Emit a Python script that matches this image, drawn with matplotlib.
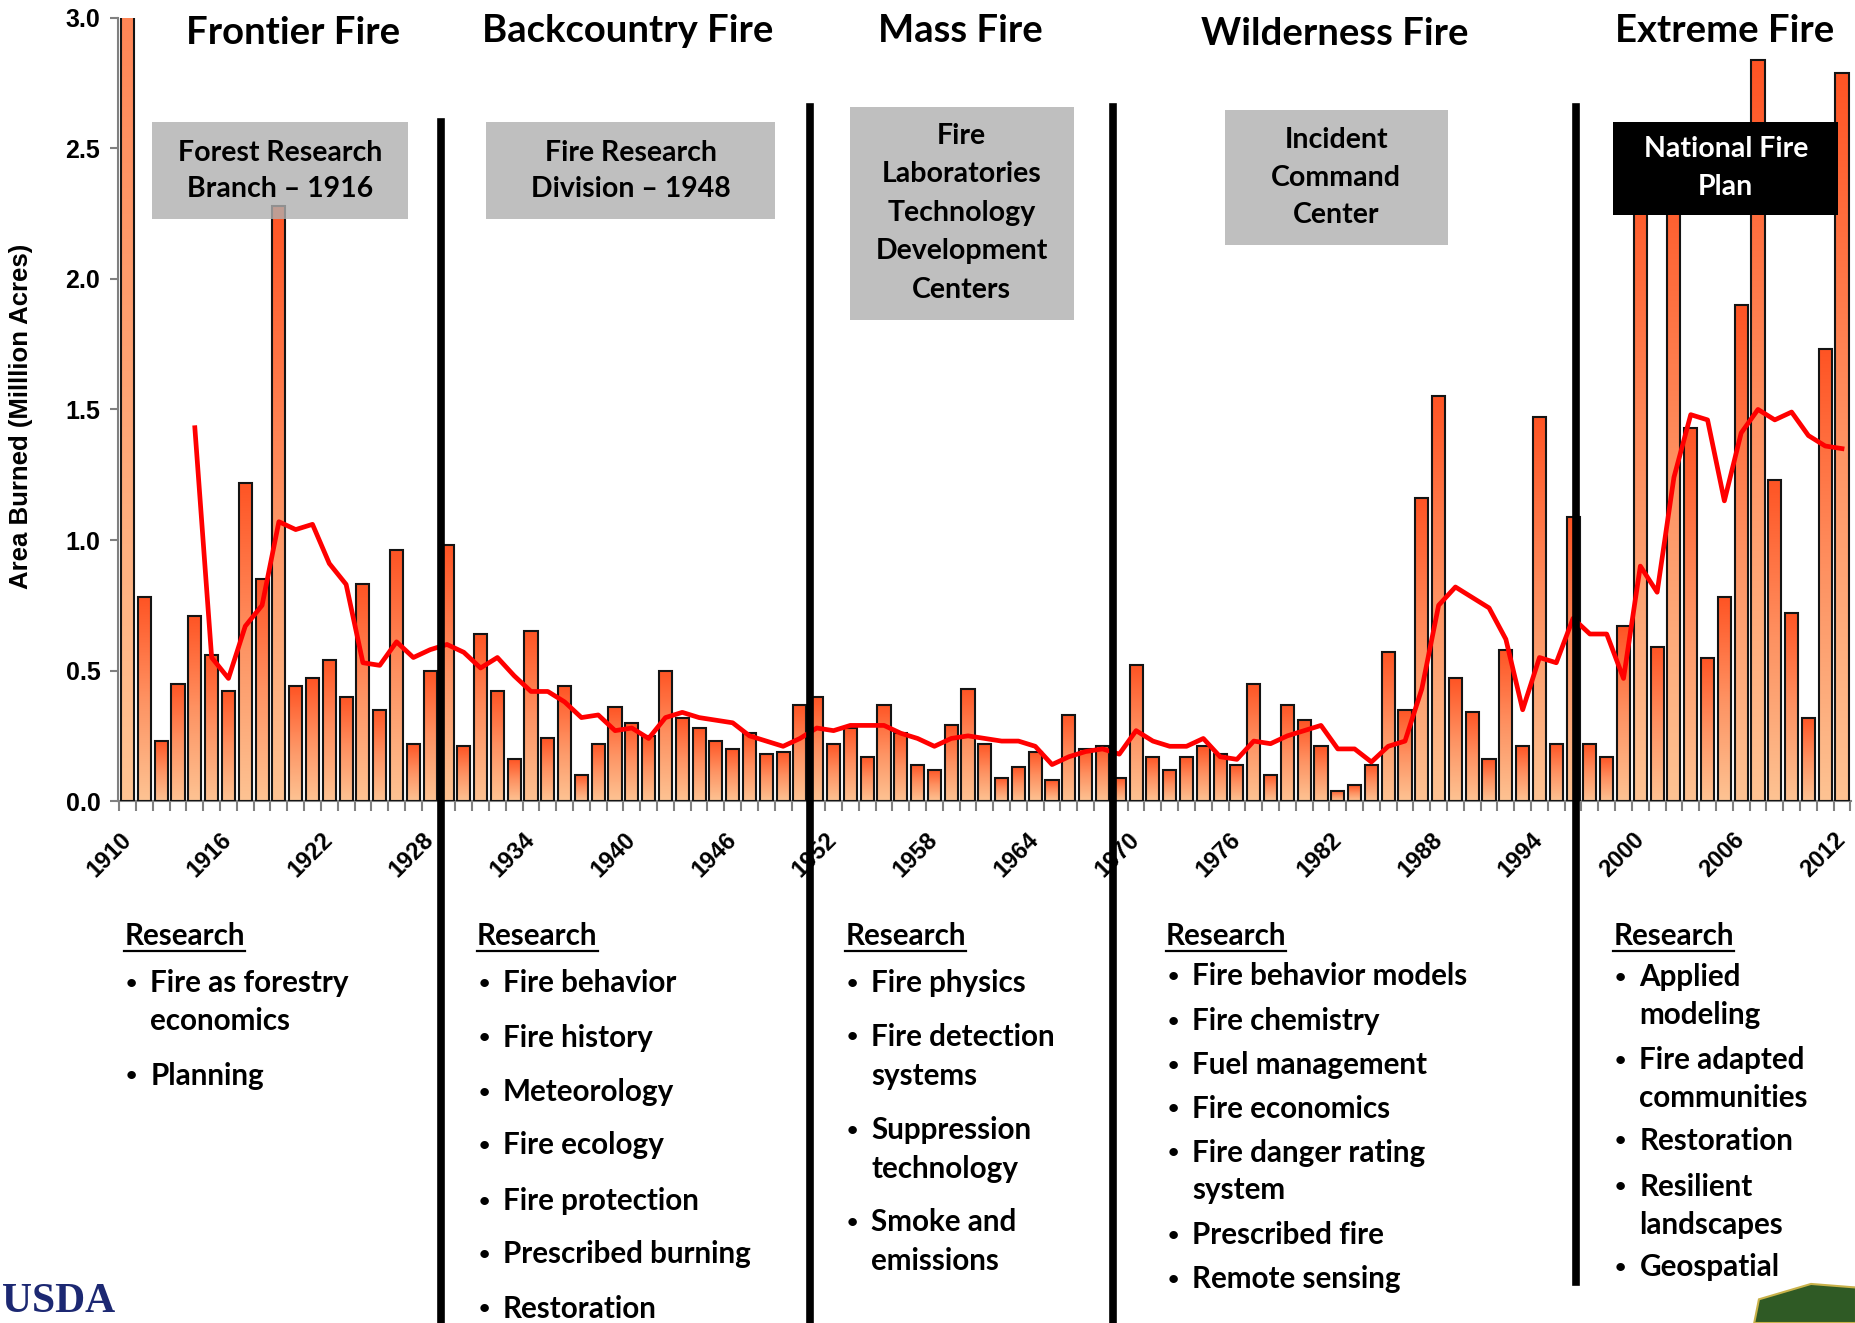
import matplotlib
matplotlib.use("Agg")
import matplotlib.pyplot as plt
import numpy as np
from matplotlib.colors import LinearSegmentedColormap
from matplotlib.patches import Rectangle, Polygon
from matplotlib.lines import Line2D
from matplotlib.transforms import blended_transform_factory

# area burned per year (million acres), 1910 - 2012
years = list(range(1910, 2013))
acres = [5.00, 0.78, 0.23, 0.45, 0.71, 0.56, 0.42, 1.22, 0.85, 2.28,
         0.44, 0.47, 0.54, 0.40, 0.83, 0.35, 0.96, 0.22, 0.50, 0.98,
         0.21, 0.64, 0.42, 0.16, 0.65, 0.24, 0.44, 0.10, 0.22, 0.36,
         0.30, 0.25, 0.50, 0.32, 0.28, 0.23, 0.20, 0.26, 0.18, 0.19,
         0.37, 0.40, 0.22, 0.28, 0.17, 0.37, 0.26, 0.14, 0.12, 0.29,
         0.43, 0.22, 0.09, 0.13, 0.19, 0.08, 0.33, 0.20, 0.21, 0.09,
         0.52, 0.17, 0.12, 0.17, 0.21, 0.18, 0.14, 0.45, 0.10, 0.37,
         0.31, 0.21, 0.04, 0.06, 0.14, 0.57, 0.35, 1.16, 1.55, 0.47,
         0.34, 0.16, 0.58, 0.21, 1.47, 0.22, 1.09, 0.22, 0.17, 0.67,
         2.45, 0.59, 2.50, 1.43, 0.55, 0.78, 1.90, 2.84, 1.23, 0.72,
         0.32, 1.73, 2.79]

# moving average line, 1914 - 2012
avg_years = list(range(1914, 2013))
avg_acres = [1.43, 0.55, 0.47, 0.67, 0.75, 1.07,
             1.04, 1.06, 0.91, 0.83, 0.53, 0.52, 0.61, 0.55, 0.58, 0.60,
             0.57, 0.51, 0.55, 0.48, 0.42, 0.42, 0.38, 0.32, 0.33, 0.27,
             0.28, 0.24, 0.32, 0.34, 0.32, 0.31, 0.30, 0.25, 0.23, 0.21,
             0.24, 0.28, 0.27, 0.29, 0.29, 0.29, 0.26, 0.24, 0.21, 0.24,
             0.25, 0.24, 0.23, 0.23, 0.21, 0.14, 0.17, 0.19, 0.20, 0.18,
             0.27, 0.23, 0.21, 0.21, 0.24, 0.17, 0.16, 0.23, 0.22, 0.25,
             0.27, 0.29, 0.20, 0.20, 0.15, 0.21, 0.23, 0.43, 0.75, 0.82,
             0.78, 0.74, 0.62, 0.35, 0.55, 0.53, 0.70, 0.64, 0.64, 0.47,
             0.90, 0.80, 1.24, 1.48, 1.46, 1.15, 1.41, 1.50, 1.46, 1.49,
             1.40, 1.36, 1.35]

tick_years = list(range(1910, 2013, 6))
era_breaks = [1928.62, 1950.58, 1968.6, 1996.2]

era_titles = ["Frontier Fire", "Backcountry Fire", "Mass Fire", "Wilderness Fire", "Extreme Fire"]
box_texts = [["Forest Research", "Branch \u2013 1916"],
             ["Fire Research", "Division \u2013 1948"],
             ["Fire", "Laboratories", "Technology", "Development", "Centers"],
             ["Incident", "Command", "Center"],
             ["National Fire", "Plan"]]

research_items = [
    ["Fire as forestry", "economics", "Planning"],
    ["Fire behavior", "Fire history", "Meteorology", "Fire ecology", "Fire protection",
     "Prescribed burning", "Restoration"],
    ["Fire physics", "Fire detection", "systems", "Suppression", "technology", "Smoke and", "emissions"],
    ["Fire behavior models", "Fire chemistry", "Fuel management", "Fire economics",
     "Fire danger rating", "system", "Prescribed fire", "Remote sensing"],
    ["Applied", "modeling", "Fire adapted", "communities", "Restoration", "Resilient",
     "landscapes", "Geospatial"],
]
# which lines start with a bullet
research_bullets = [
    [True, False, True],
    [True, True, True, True, True, True, True],
    [True, True, False, True, False, True, False],
    [True, True, True, True, True, False, True, True],
    [True, False, True, False, True, True, False, True],
]

# layout measured on a 1568 x 1118 grid
W, H = 1568.0, 1118.0


def fx(x):
    return x / W


def fy(y):
    return 1 - y / H


TXT = "Lato"
fig = plt.figure(figsize=(18.56, 13.23), dpi=100)
ax = fig.add_axes([fx(100), fy(677), fx(1464), fy(15) - fy(677)])

# gradient bars
cmap = LinearSegmentedColormap.from_list("burn", ["#FDC393", "#FE9262", "#FF5424"])
grad = np.linspace(0, 1, 256).reshape(-1, 1)
bar_w = 0.78
for yr, a in zip(years, acres):
    ax.imshow(grad, extent=(yr - bar_w / 2, yr + bar_w / 2, 0, a), origin="lower",
              aspect="auto", cmap=cmap, zorder=2, interpolation="bilinear")
ax.bar(years, acres, width=bar_w, fill=False, edgecolor="#141414", linewidth=1.5, zorder=3)
ax.plot(avg_years, avg_acres, color="#FF0000", linewidth=3.4, zorder=4)

ax.set_xlim(1909.45, 2012.55)
ax.set_ylim(0, 3.0)
ax.set_aspect("auto")

for s in ["top", "right"]:
    ax.spines[s].set_visible(False)
for s in ["left", "bottom"]:
    ax.spines[s].set_color("#808080")
    ax.spines[s].set_linewidth(1.5)

ax.set_yticks(np.arange(0, 3.01, 0.5))
ax.set_yticklabels(["%.1f" % v for v in np.arange(0, 3.01, 0.5)],
                   fontfamily="Liberation Sans", fontweight="bold", fontsize=18)
ax.tick_params(axis="y", length=6, width=1.5, color="#808080", pad=7)
ax.set_xticks(np.arange(1909.5, 2013, 1), minor=True)
ax.tick_params(axis="x", which="minor", length=7, width=1.5, color="#808080")
ax.set_xticks(tick_years)
ax.set_xticklabels([str(y) for y in tick_years], rotation=45, ha="right", va="center",
                   rotation_mode="anchor", fontfamily="Liberation Sans", fontweight="bold", fontsize=17)
ax.tick_params(axis="x", which="major", length=0, pad=25)

fig.text(fx(18), fy(352), "Area Burned (Milllion Acres)", rotation=90, ha="center", va="center",
         fontfamily="Liberation Sans", fontweight="bold", fontsize=18.5)

# era divider lines
trans = blended_transform_factory(ax.transData, fig.transFigure)
line_spans = [(103, 1118), (90, 1118), (90, 1118), (90, 1083)]
for xb, (y0, y1) in zip(era_breaks, line_spans):
    ax.add_line(Line2D([xb, xb], [fy(y0), fy(y1)], transform=trans, color="black",
                       linewidth=5.5, clip_on=False, zorder=6))

# era titles
title_pos = [(248, 28), (530, 26), (811, 26), (1128, 29), (1457, 26)]
for t, (x, y) in zip(era_titles, title_pos):
    fig.text(fx(x), fy(y), t, ha="center", va="center", fontfamily=TXT,
             fontweight="bold", fontsize=27.5)

# institution boxes
boxes = [(128, 103, 345, 185), (411, 103, 655, 185), (718, 90, 907, 270),
         (1035, 93, 1223, 207), (1363, 103, 1553, 182)]
box_lines_y = [[129, 160], [129, 160], [115, 147, 180, 212, 245], [118, 150, 182], [126, 158]]
for i, ((x0, y0, x1, y1), lines, ys) in enumerate(zip(boxes, box_texts, box_lines_y)):
    dark = i == 4
    fc = "black" if dark else (0.69, 0.69, 0.69, 0.8)
    fig.add_artist(Rectangle((fx(x0), fy(y1)), fx(x1 - x0), fy(y0) - fy(y1),
                             transform=fig.transFigure, facecolor=fc, edgecolor="none", zorder=7))
    for line, y in zip(lines, ys):
        fig.text(fx((x0 + x1) / 2), fy(y), line, ha="center", va="center", fontfamily=TXT,
                 fontweight="bold", fontsize=20.5, color="white" if dark else "black", zorder=8)

# research lists
col_x = [105, 403, 714, 985, 1363]
col_y = [
    [831, 863, 909],
    [831, 877, 923, 968, 1015, 1060, 1106],
    [831, 876, 909, 955, 988, 1033, 1066],
    [825, 863, 900, 937, 974, 1006, 1044, 1081],
    [826, 858, 896, 928, 964, 1003, 1035, 1071],
]
renderer = fig.canvas.get_renderer()
for cx, items, bullets, ys in zip(col_x, research_items, research_bullets, col_y):
    hdr = fig.text(fx(cx), fy(791), "Research", ha="left", va="center", fontfamily=TXT,
                   fontweight="bold", fontsize=21.3)
    bb = hdr.get_window_extent(renderer).transformed(fig.transFigure.inverted())
    fig.add_artist(Line2D([bb.x0, bb.x1], [fy(804), fy(804)], transform=fig.transFigure,
                          color="black", linewidth=1.6))
    for item, b, y in zip(items, bullets, ys):
        if b:
            fig.text(fx(cx + 6), fy(y), "\u2022", ha="center", va="center", fontfamily=TXT,
                     fontweight="bold", fontsize=14)
        fig.text(fx(cx + 22), fy(y), item, ha="left", va="center", fontfamily=TXT,
                 fontweight="bold", fontsize=21.3)

# logos (rough)
fig.text(fx(2), fy(1116), "USDA", ha="left", va="bottom", fontfamily="Liberation Serif",
         fontweight="bold", fontsize=30, color="#1C2872")
shield = Polygon([(fx(1482), fy(1118)), (fx(1486), fy(1098)), (fx(1530), fy(1085)),
                  (fx(1568), fy(1088)), (fx(1568), fy(1118))], closed=True,
                 transform=fig.transFigure, facecolor="#2F5A25", edgecolor="#C9B24A", linewidth=1.5)
fig.add_artist(shield)

fig.savefig("out.png", dpi=100)
